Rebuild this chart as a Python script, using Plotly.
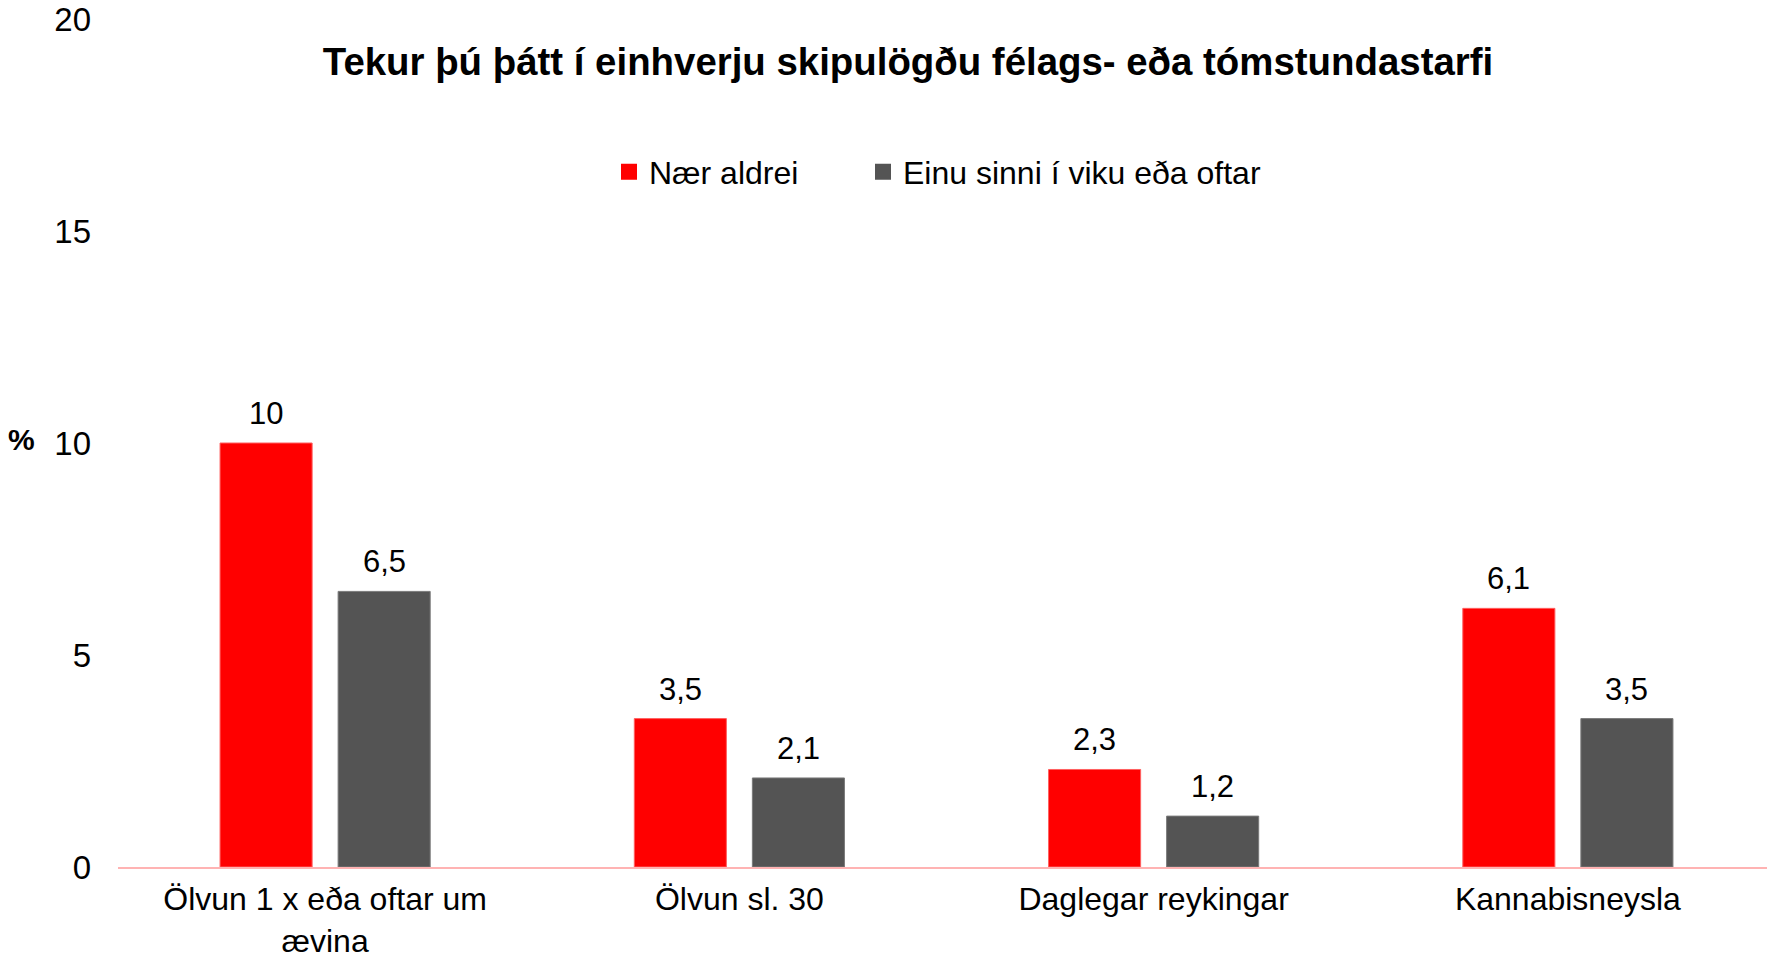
import plotly.graph_objects as go

categories = ["Ölvun 1 x eða oftar um<br>ævina", "Ölvun sl. 30", "Daglegar reykingar", "Kannabisneysla"]
series_names = ["Nær aldrei", "Einu sinni í viku eða oftar"]
naer_aldrei = [10, 3.5, 2.3, 6.1]
einu_sinni = [6.5, 2.1, 1.2, 3.5]
y_ticks = [0, 5, 10, 15, 20]

title_text = "Tekur þú þátt í einhverju skipulögðu félags- eða tómstundastarfi"
colors = ["#FF0000", "#545454"]
edge_colors = ["#FF6060", "#7A7A7A"]
FONT = "Liberation Sans, Arial, sans-serif"

# the page body has an 8px default margin, so the figure is 8px smaller
W, H = 1767, 950

BARGAP = 0.43
BARGROUPGAP = 0.22

legend_names = ["legend", "legend2"]
legend_x = [601, 855]

fig = go.Figure()
all_series = [naer_aldrei, einu_sinni]
for name, vals, c, ec, lg in zip(series_names, all_series, colors, edge_colors, legend_names):
    fig.add_trace(go.Bar(
        x=categories, y=vals, name=name, showlegend=False,
        marker=dict(color=c, line=dict(color=ec, width=1)),
        hoverinfo="skip",
    ))
    # legend proxy with a larger square symbol
    fig.add_trace(go.Scatter(
        x=[None], y=[None], mode="markers", name=name, legend=lg,
        marker=dict(symbol="square", size=19, color=c),
    ))

# value labels above bars
slot = (1 - BARGAP) / len(all_series)
annotations = []
for si, vals in enumerate(all_series):
    off = (si - (len(all_series) - 1) / 2) * slot
    for ci, v in enumerate(vals):
        annotations.append(dict(
            x=ci + off, y=v, xref="x", yref="y",
            text=(f"{v:g}").replace(".", ","), showarrow=False,
            yanchor="bottom", yshift=10,
            font=dict(family=FONT, size=31, color="#000000"),
        ))

annotations.append(dict(
    x=0, y=10, xref="paper", yref="y", text="<b>%</b>", showarrow=False,
    xanchor="center", yanchor="middle", xshift=-97, yshift=4,
    font=dict(family=FONT, size=30, color="#000000"),
))

legend_common = dict(
    orientation="h", xref="container", xanchor="left",
    y=1 - 164 / H, yref="container", yanchor="middle",
    font=dict(family=FONT, size=32, color="#000000"),
    bgcolor="rgba(0,0,0,0)", itemsizing="trace",
)

fig.update_layout(
    width=W, height=H,
    margin=dict(l=110, r=0, t=11, b=91, autoexpand=False),
    paper_bgcolor="white", plot_bgcolor="white",
    barmode="group", bargap=BARGAP, bargroupgap=BARGROUPGAP,
    separators=",.",
    title=dict(
        text=f"<b>{title_text}</b>", x=900 / W, xref="container", xanchor="center",
        y=1 - 54 / H, yref="container", yanchor="middle",
        font=dict(family=FONT, size=38.4, color="#000000"),
    ),
    legend=dict(x=legend_x[0] / W, **legend_common),
    legend2=dict(x=legend_x[1] / W, **legend_common),
    xaxis=dict(
        showline=True, linecolor="#FFB3B3", linewidth=1.5,
        showgrid=False, zeroline=False, ticks="",
        tickfont=dict(family=FONT, size=32, color="#000000"),
        ticklabelstandoff=3, ticklabeloverflow="allow",
    ),
    yaxis=dict(
        range=[0, 20], tickvals=y_ticks, showgrid=False, zeroline=False,
        showline=False, ticks="",
        tickfont=dict(family=FONT, size=33, color="#000000"),
        ticklabelstandoff=26, ticklabeloverflow="allow",
    ),
    annotations=annotations,
    font=dict(family=FONT),
)

fig.write_html("out.html")
